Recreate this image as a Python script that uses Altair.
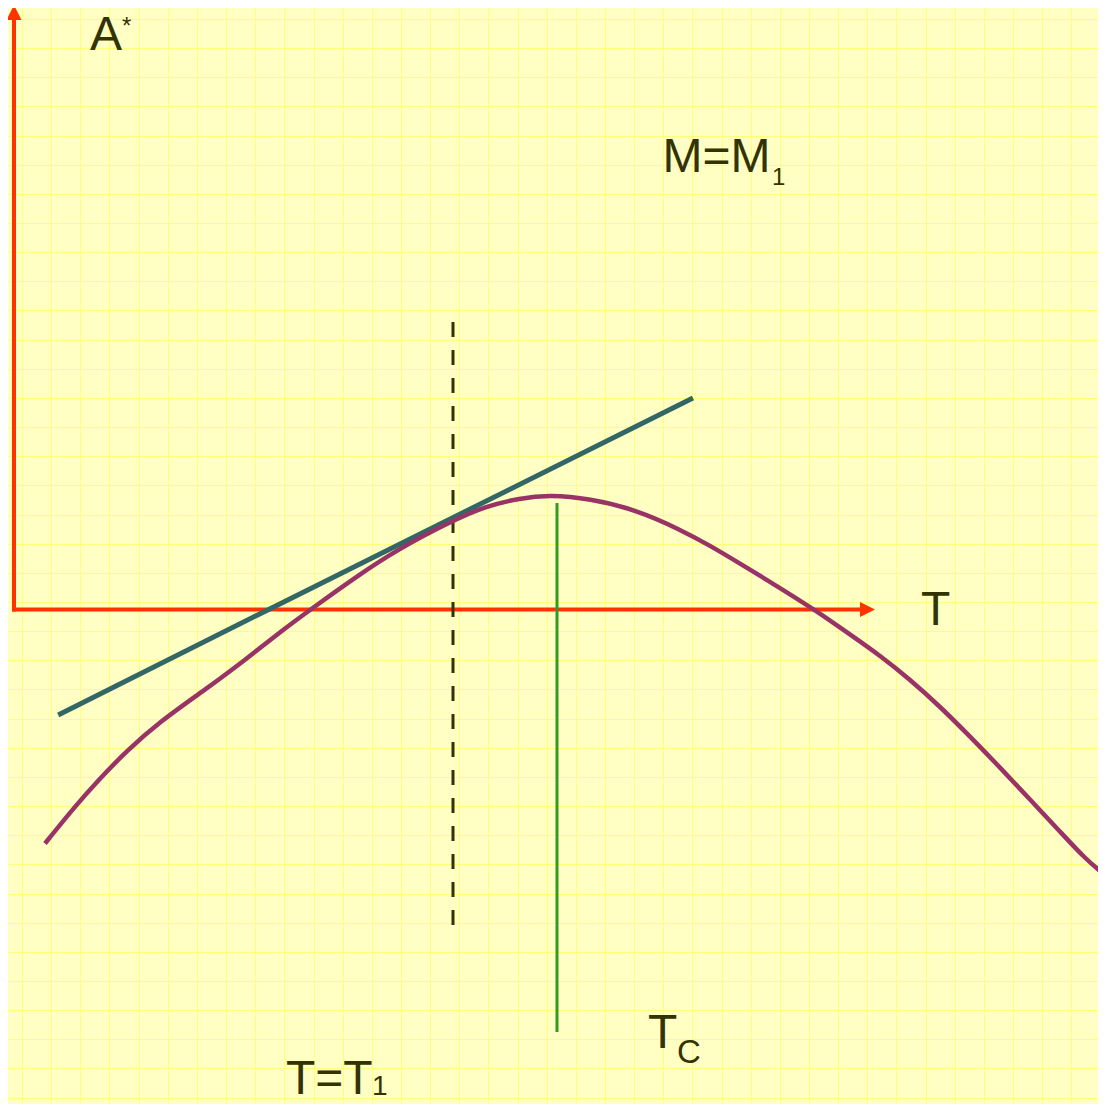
import altair as alt
import pandas as pd

# ---- colours ----
BG = "#FFFFC4"
GRID = "#FFFF78"
RED = "#FF3300"
PURPLE = "#993366"
TEAL = "#336666"
GREEN = "#339922"
INK = "#333300"
FONT = "Liberation Sans"

# ---- data (T along the horizontal axis, A* along the vertical axis) ----
curve_T = [31, 60, 85, 112, 146, 190, 233, 268, 298, 341, 385, 439, 471, 506, 536,
           575, 623, 666, 696, 726, 766, 801, 836, 866, 896, 926, 956, 986,
           1016, 1046, 1071, 1089]
curve_A = [-234, -198, -170, -142, -112, -81, -49, -21, 1, 32, 61, 89, 103, 111.5, 114.5,
           111, 99.5, 80, 64, 46, 21.5, -0.5, -25, -46, -70, -97, -127, -158,
           -190, -222, -249, -264]

tangent_T = [44.2, 250.2, 679.0]
tangent_A = [-105.5, -2.2, 211.5]

T1 = [439.0]
T1_top = [287.5]
T1_bottom = [-315.5]

TC = [543.0]
TC_top = [106.5]
TC_bottom = [-422.5]

axis_T_end = [846.0]
axis_A_end = [589.5]

# ---- scales / axes (the grid paper) ----
xs = alt.Scale(domain=[-6, 1084], nice=False, zero=False)
ys = alt.Scale(domain=[-494.5, 601.5], nice=False, zero=False)
grid_x = [round(8 + 29.15 * k) for k in range(38)]
grid_y = [601.5 - round(11 + 29.15 * k) for k in range(38)]
ax_x = alt.Axis(values=grid_x, labels=False, ticks=False, domain=False, title="",
                grid=True, gridColor=GRID, gridWidth=1, gridOpacity=1)
ax_y = alt.Axis(values=grid_y, labels=False, ticks=False, domain=False, title="",
                grid=True, gridColor=GRID, gridWidth=1, gridOpacity=1)


def X(field):
    return alt.X(field, type="quantitative", scale=xs, axis=ax_x)


def Y(field):
    return alt.Y(field, type="quantitative", scale=ys, axis=ax_y)


# purple curve
purple = alt.Chart(pd.DataFrame({"T": curve_T, "A": curve_A})).mark_line(
    color=PURPLE, strokeWidth=4.5, interpolate="basis", clip=True
).encode(x=X("T"), y=Y("A"))

# tangent line
teal = alt.Chart(pd.DataFrame({"T": tangent_T, "A": tangent_A})).mark_line(
    color=TEAL, strokeWidth=5, clip=True
).encode(x=X("T"), y=Y("A"))

# dashed vertical at T = T1
dashed = alt.Chart(pd.DataFrame({"T": T1, "A": T1_top, "A2": T1_bottom})).mark_rule(
    color=INK, strokeWidth=3, strokeDash=[15, 13]
).encode(x=X("T"), y=Y("A"), y2="A2")

# green vertical at Tc
green = alt.Chart(pd.DataFrame({"T": TC, "A": TC_top, "A2": TC_bottom})).mark_rule(
    color=GREEN, strokeWidth=3
).encode(x=X("T"), y=Y("A"), y2="A2")

# coordinate axes (red arrows)
v_axis = alt.Chart(pd.DataFrame({"T": [0.0], "A": [0.0], "A2": axis_A_end})).mark_rule(
    color=RED, strokeWidth=4, strokeCap="square"
).encode(x=X("T"), y=Y("A"), y2="A2")
h_axis = alt.Chart(pd.DataFrame({"T": [0.0], "T2": axis_T_end, "A": [0.0]})).mark_rule(
    color=RED, strokeWidth=4, strokeCap="square"
).encode(x=X("T"), x2="T2", y=Y("A"))

up_head = alt.Chart(pd.DataFrame({"T": [0.0], "A": [axis_A_end[0] + 7.5]})).mark_point(
    shape="M0,-1L1,1L-1,1Z", filled=True, size=225, color=RED, opacity=1, strokeWidth=0
).encode(x=X("T"), y=Y("A"))
right_head = alt.Chart(pd.DataFrame({"T": [axis_T_end[0] + 7.5], "A": [0.0]})).mark_point(
    shape="M1,0L-1,1L-1,-1Z", filled=True, size=225, color=RED, opacity=1, strokeWidth=0
).encode(x=X("T"), y=Y("A"))


def label(text, t, a, size):
    return alt.Chart(pd.DataFrame({"T": [t], "A": [a]})).mark_text(
        text=text, font=FONT, fontSize=size, color=INK, align="left", baseline="alphabetic"
    ).encode(x=X("T"), y=Y("A"))


texts = [
    label("A", 76, 559.5, 48),
    label("*", 108, 575.5, 24),
    label("M=M", 648.5, 437.5, 48),
    label("1", 758, 424.5, 24),
    label("T", 907, -15.5, 48),
    label("T=T", 272, -484.5, 48),
    label("1", 358, -485.5, 28),
    label("T", 634, -438.5, 48),
    label("C", 663, -453.5, 33),
]

chart = alt.layer(
    v_axis, h_axis, up_head, right_head, dashed, green, teal, purple, *texts
).properties(
    width=1090, height=1096, padding=0, autosize=alt.AutoSizeParams(type="none"),
    background=BG
).configure_view(strokeWidth=0, fill=BG)

chart.save("out.html", embed_options={"renderer": "svg", "actions": False})
